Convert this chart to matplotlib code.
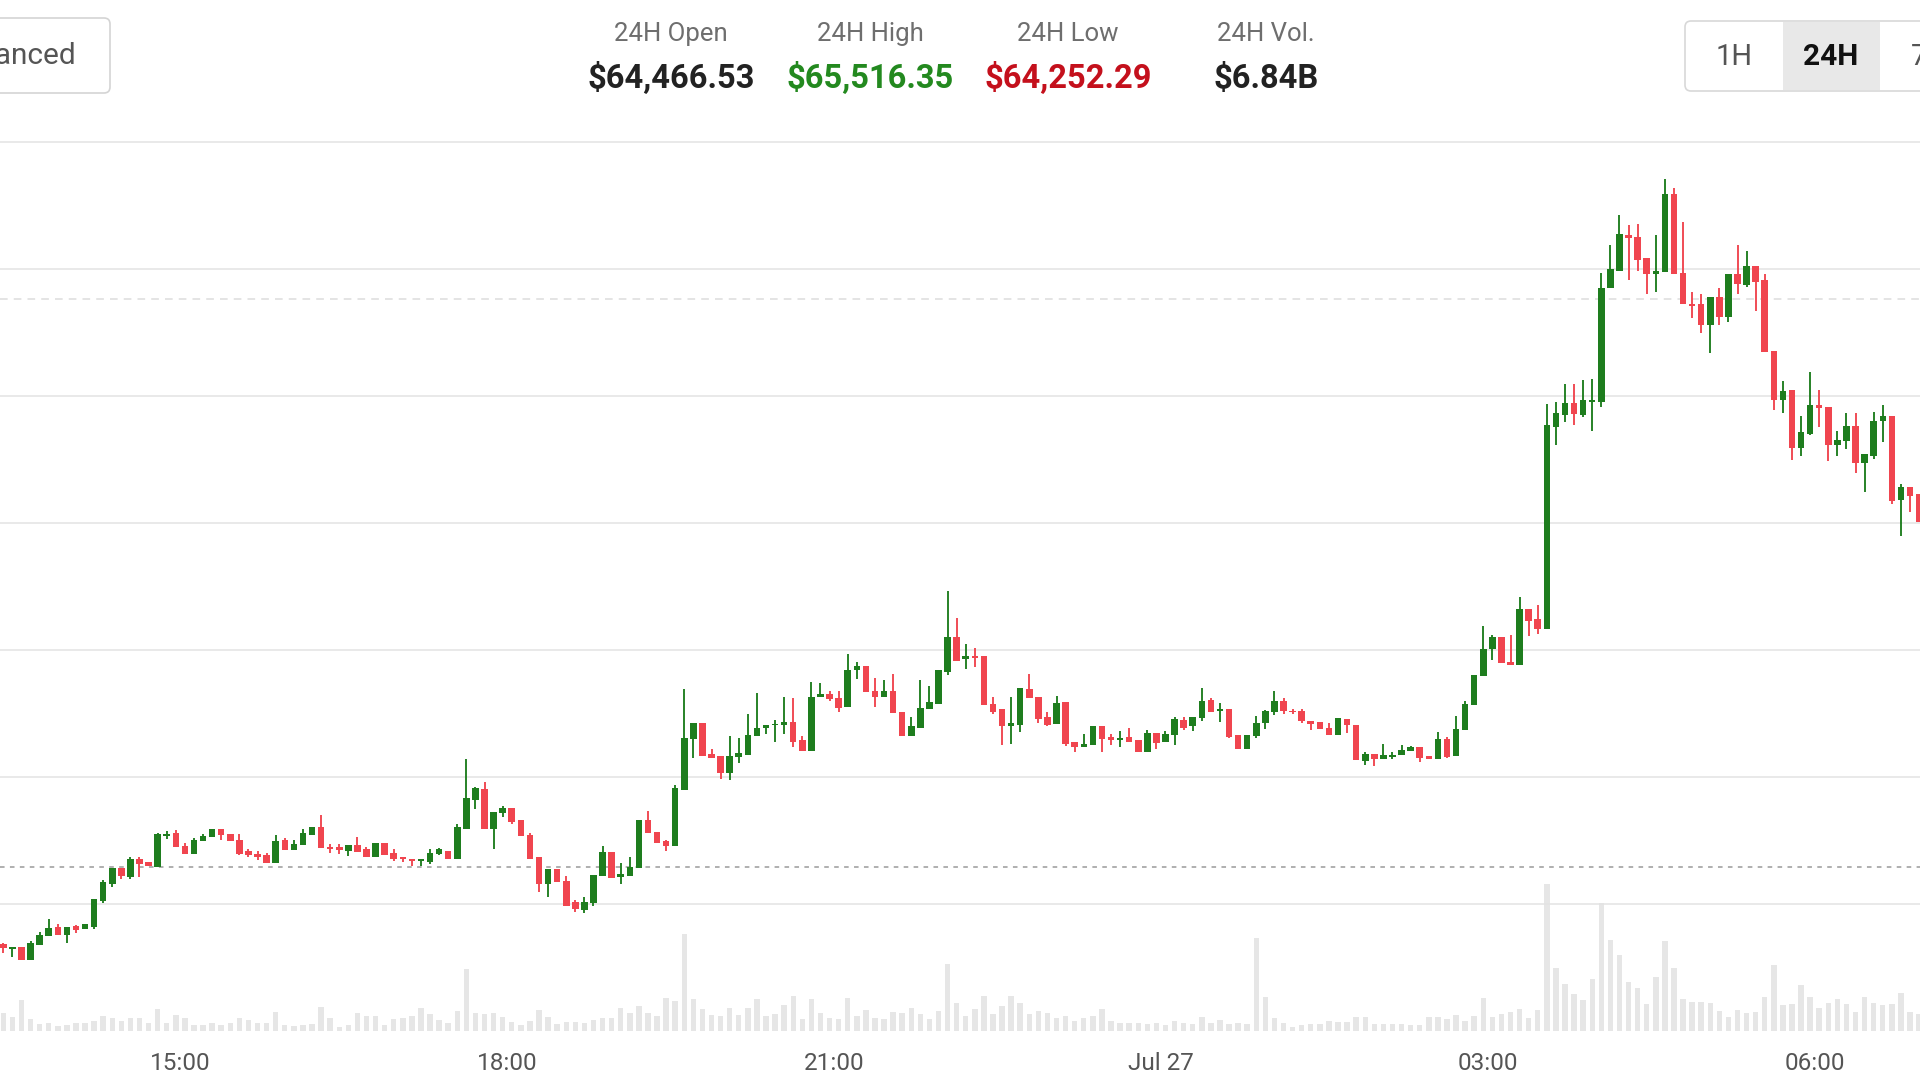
import numpy as np
import pandas as pd
import matplotlib
matplotlib.use("Agg")
import matplotlib.pyplot as plt
import matplotlib.dates as mdates
from matplotlib.patches import FancyBboxPatch, Rectangle

plt.rcParams['font.family'] = ['Roboto', 'DejaVu Sans']

# 5-minute candles, first one opens 13:20
start = "2024-07-26 13:20"

opens = [64338, 64330, 64333, 64313, 64336, 64350, 64365, 64352, 64366, 64361,
         64365, 64405, 64432, 64457, 64443, 64471, 64466, 64459, 64508, 64513,
         64492, 64479, 64499, 64506, 64519, 64510, 64502, 64484, 64480, 64477,
         64465, 64501, 64485, 64493, 64509, 64522, 64491, 64491, 64484, 64493,
         64487, 64474, 64496, 64481, 64475, 64472, 64468, 64467, 64480, 64484,
         64472, 64519, 64565, 64582, 64518, 64543, 64551, 64533, 64509, 64475,
         64432, 64456, 64437, 64403, 64391, 64402, 64444, 64482, 64443, 64445,
         64457, 64532, 64514, 64499, 64492, 64580, 64660, 64686, 64637, 64633,
         64606, 64632, 64635, 64665, 64677, 64682, 64682, 64687, 64658, 64642,
         64726, 64731, 64724, 64710, 64768, 64775, 64736, 64726, 64735, 64703,
         64665, 64678, 64707, 64715, 64766, 64821, 64786, 64791, 64790, 64715,
         64707, 64681, 64682, 64739, 64727, 64695, 64684, 64718, 64656, 64648,
         64651, 64680, 64664, 64659, 64664, 64658, 64639, 64670, 64655, 64666,
         64690, 64680, 64694, 64721, 64704, 64707, 64667, 64645, 64665, 64685,
         64702, 64720, 64705, 64704, 64689, 64687, 64678, 64667, 64692, 64682,
         64626, 64636, 64628, 64632, 64635, 64641, 64647, 64634, 64628, 64660,
         64634, 64674, 64713, 64759, 64801, 64821, 64782, 64777, 64864, 64849,
         64834, 65151, 65170, 65189, 65170, 65191, 65190, 65369, 65397, 65453,
         65450, 65417, 65391, 65395, 65518, 65394, 65345, 65344, 65312, 65356,
         65324, 65391, 65375, 65405, 65382, 65271, 65194, 65210, 65118, 65140,
         65185, 65183, 65123, 65129, 65153, 65094, 65106, 65160, 65168, 65036,
         65057, 65046]
highs = [64339, 64332, 64333, 64343, 64356, 64377, 64369, 64365, 64367, 64369,
         64408, 64439, 64458, 64457, 64474, 64475, 64466, 64513, 64516, 64517,
         64496, 64505, 64510, 64519, 64519, 64510, 64510, 64487, 64484, 64481,
         64509, 64504, 64501, 64518, 64522, 64540, 64495, 64495, 64493, 64506,
         64490, 64496, 64496, 64487, 64475, 64472, 64471, 64487, 64488, 64484,
         64527, 64628, 64585, 64592, 64546, 64554, 64551, 64533, 64513, 64475,
         64456, 64456, 64445, 64407, 64411, 64447, 64492, 64482, 64465, 64475,
         64532, 64547, 64514, 64502, 64588, 64739, 64686, 64686, 64644, 64633,
         64665, 64661, 64699, 64732, 64682, 64690, 64726, 64724, 64665, 64750,
         64748, 64736, 64736, 64794, 64782, 64775, 64756, 64753, 64763, 64703,
         64695, 64753, 64744, 64769, 64893, 64850, 64810, 64804, 64790, 64727,
         64707, 64727, 64741, 64762, 64727, 64703, 64728, 64718, 64656, 64668,
         64680, 64680, 64668, 64672, 64678, 64658, 64675, 64670, 64673, 64695,
         64695, 64695, 64741, 64724, 64717, 64707, 64667, 64667, 64697, 64706,
         64736, 64724, 64708, 64708, 64689, 64687, 64685, 64693, 64692, 64682,
         64640, 64636, 64653, 64639, 64651, 64649, 64647, 64634, 64671, 64664,
         64697, 64720, 64761, 64838, 64824, 64821, 64824, 64883, 64864, 64871,
         65188, 65191, 65219, 65219, 65225, 65227, 65393, 65437, 65485, 65469,
         65470, 65417, 65453, 65542, 65527, 65474, 65364, 65361, 65356, 65370,
         65391, 65438, 65428, 65405, 65392, 65271, 65224, 65210, 65168, 65238,
         65210, 65183, 65145, 65173, 65173, 65109, 65174, 65185, 65168, 65061,
         65057, 65046]
lows = [64324, 64317, 64313, 64313, 64336, 64350, 64352, 64339, 64355, 64361,
        64361, 64402, 64428, 64440, 64440, 64443, 64460, 64459, 64503, 64491,
        64479, 64479, 64499, 64506, 64502, 64500, 64477, 64475, 64470, 64465,
        64465, 64485, 64485, 64493, 64509, 64489, 64481, 64480, 64476, 64483,
        64475, 64474, 64478, 64469, 64467, 64460, 64460, 64464, 64478, 64471,
        64472, 64519, 64550, 64519, 64487, 64537, 64526, 64507, 64472, 64419,
        64411, 64435, 64397, 64388, 64387, 64398, 64444, 64441, 64432, 64445,
        64457, 64512, 64496, 64484, 64492, 64580, 64630, 64633, 64630, 64597,
        64596, 64623, 64635, 64665, 64668, 64656, 64668, 64648, 64642, 64642,
        64726, 64720, 64703, 64710, 64754, 64734, 64711, 64726, 64701, 64665,
        64665, 64678, 64707, 64715, 64761, 64783, 64771, 64774, 64713, 64699,
        64651, 64653, 64671, 64724, 64686, 64680, 64684, 64649, 64640, 64648,
        64651, 64640, 64651, 64648, 64656, 64639, 64639, 64644, 64655, 64650,
        64674, 64673, 64689, 64702, 64687, 64661, 64644, 64645, 64662, 64676,
        64698, 64699, 64699, 64685, 64674, 64676, 64667, 64667, 64669, 64627,
        64620, 64618, 64628, 64628, 64635, 64641, 64624, 64628, 64628, 64630,
        64634, 64674, 64713, 64759, 64785, 64780, 64777, 64777, 64822, 64826,
        64834, 65122, 65159, 65154, 65167, 65145, 65182, 65369, 65397, 65383,
        65397, 65361, 65363, 65395, 65392, 65344, 65323, 65299, 65267, 65312,
        65316, 65361, 65371, 65333, 65269, 65178, 65173, 65099, 65106, 65138,
        65151, 65098, 65106, 65117, 65079, 65048, 65100, 65128, 65030, 64979,
        65018, 65001]
closes = [64332, 64332, 64313, 64339, 64352, 64363, 64352, 64365, 64360, 64369,
          64408, 64435, 64458, 64444, 64471, 64464, 64460, 64511, 64510, 64491,
          64479, 64502, 64508, 64519, 64509, 64500, 64480, 64478, 64475, 64465,
          64500, 64485, 64495, 64512, 64522, 64489, 64487, 64486, 64493, 64483,
          64475, 64496, 64478, 64472, 64471, 64469, 64471, 64481, 64487, 64471,
          64521, 64568, 64583, 64519, 64546, 64552, 64530, 64507, 64472, 64432,
          64456, 64435, 64397, 64393, 64404, 64447, 64482, 64441, 64448, 64459,
          64532, 64512, 64496, 64492, 64583, 64662, 64686, 64633, 64630, 64606,
          64633, 64638, 64666, 64677, 64682, 64684, 64687, 64656, 64642, 64727,
          64731, 64723, 64709, 64769, 64775, 64734, 64726, 64735, 64701, 64665,
          64681, 64709, 64718, 64769, 64821, 64783, 64791, 64788, 64713, 64703,
          64680, 64686, 64741, 64724, 64691, 64682, 64717, 64652, 64647, 64653,
          64680, 64660, 64659, 64661, 64656, 64639, 64670, 64654, 64668, 64691,
          64678, 64695, 64720, 64702, 64707, 64664, 64645, 64667, 64686, 64704,
          64720, 64704, 64702, 64689, 64684, 64676, 64667, 64693, 64683, 64627,
          64636, 64628, 64635, 64635, 64643, 64647, 64631, 64628, 64660, 64632,
          64676, 64716, 64761, 64802, 64821, 64780, 64777, 64864, 64846, 64834,
          65154, 65173, 65189, 65171, 65193, 65194, 65370, 65400, 65454, 65448,
          65414, 65391, 65396, 65518, 65392, 65344, 65342, 65312, 65356, 65324,
          65391, 65376, 65405, 65379, 65269, 65194, 65208, 65118, 65143, 65185,
          65181, 65122, 65130, 65152, 65094, 65109, 65160, 65168, 65035, 65057,
          65043, 65001]
volumes = [53, 43, 93, 35, 20, 23, 15, 18, 23, 23, 31, 45, 38, 31, 38, 38, 23, 65,
           23, 48, 38, 18, 18, 25, 18, 23, 40, 33, 25, 23, 58, 18, 15, 18, 21, 73,
           38, 13, 18, 53, 45, 45, 18, 35, 38, 45, 68, 51, 33, 23, 61, 185, 53, 51,
           53, 43, 28, 18, 30, 63, 43, 20, 28, 28, 23, 33, 38, 38, 68, 53, 75, 55,
           45, 100, 90, 290, 95, 65, 47, 45, 70, 47, 70, 97, 45, 50, 77, 105, 35,
           95, 55, 40, 37, 100, 45, 63, 40, 35, 57, 53, 70, 50, 35, 60, 202, 85, 45,
           65, 105, 50, 75, 105, 85, 50, 60, 55, 40, 45, 30, 40, 45, 65, 30, 25, 23,
           25, 20, 23, 17, 30, 23, 20, 43, 23, 33, 20, 25, 20, 280, 103, 40,
           25, 13, 18, 21, 21, 29, 27, 27, 41, 41, 21, 21, 21, 21, 19, 19, 41, 41,
           37, 48, 31, 45, 98, 41, 51, 58, 66, 40, 63, 441, 188, 141, 111, 93, 156,
           383, 273, 228, 148, 128, 81, 163, 270, 188, 96, 88, 88, 83, 60, 41, 63,
           53, 57, 103, 198, 77, 80, 138, 103, 68, 85, 95, 80, 58, 103, 83, 78, 81,
           113, 56, 50]

tick_times = ["2024-07-26 15:00", "2024-07-26 18:00", "2024-07-26 21:00",
              "2024-07-27 00:00", "2024-07-27 03:00", "2024-07-27 06:00"]
tick_labels = ["15:00", "18:00", "21:00", "Jul 27", "03:00", "06:00"]
grid_prices = [64400, 64600, 64800, 65000, 65200, 65400, 65600]

open_line = 64459      # dashed line as it sits in the chart
ref_price = 65352

stat_labels = ["24H Open", "24H High", "24H Low", "24H Vol."]
stat_values = ["$64,466.53", "$65,516.35", "$64,252.29", "$6.84B"]
stat_colors = ["#222222", "#23891f", "#c4101c", "#222222"]
ranges = ["1H", "24H", "7D"]

GREEN = "#1e7d1e"
RED = "#f0454f"

o = np.array(opens, float)
h = np.array(highs, float)
l = np.array(lows, float)
c = np.array(closes, float)
times = pd.date_range(start, periods=len(o), freq="5min") + pd.Timedelta(minutes=2.5)
x = mdates.date2num(times.to_pydatetime())
minute = 1.0 / 1440
colors = np.where(c >= o, GREEN, RED)

fig = plt.figure(figsize=(19.2, 10.8), dpi=100)
fig.patch.set_facecolor("white")
rect = [0, 1 - 1031 / 1080, 1, 890 / 1080]

ax_vol = fig.add_axes(rect)
ax = fig.add_axes(rect, sharex=ax_vol)
ax.set_zorder(ax_vol.get_zorder() + 1)
ax.patch.set_visible(False)

# volume
ax_vol.bar(x, volumes, width=3.0 * minute, color="#e6e6e6", linewidth=0)
ax_vol.set_ylim(0, 2670)
ax_vol.axis("off")

# candles
ax.vlines(x, l, h, colors=colors, linewidth=1.35, zorder=2)
body_lo = np.minimum(o, c)
body_h = np.maximum(np.abs(c - o), 2.4)
ax.bar(x, body_h, bottom=body_lo, width=3.6 * minute, color=colors, linewidth=0, zorder=3)

ax.axhline(open_line, color="#9a9a9a", linewidth=1.1, dashes=(3, 3.5), zorder=1)
ax.axhline(ref_price, color="#dcdcdc", linewidth=1.1, dashes=(5, 4), zorder=1)

ax.set_ylim(64200.8, 65601)
t0 = pd.Timestamp(start)
ax.set_xlim(mdates.date2num(t0 + pd.Timedelta(minutes=0.68)),
            mdates.date2num(t0 + pd.Timedelta(minutes=1058)))
ax.set_yticks(grid_prices)
ax.grid(axis="y", color="#e3e3e3", linewidth=1.1)
ax.set_axisbelow(True)
ax.set_xticks(mdates.date2num(pd.to_datetime(tick_times).to_pydatetime()))
ax.set_xticklabels(tick_labels)
ax.tick_params(axis="x", length=0, pad=15, labelsize=17.5, labelcolor="#555555")
ax.tick_params(axis="y", length=0, labelleft=False)
for s in ax.spines.values():
    s.set_visible(False)

# header drawn in pixel coordinates
hdr = fig.add_axes([0, 0, 1, 1])
hdr.set_xlim(0, 1920)
hdr.set_ylim(1080, 0)
hdr.axis("off")
hdr.patch.set_visible(False)

hdr.add_patch(FancyBboxPatch((-30, 18), 140, 75, boxstyle="round,pad=0,rounding_size=6",
                             fc="white", ec="#d4d4d4", lw=1.2))
hdr.text(76, 56, "Advanced", ha="right", va="center", fontsize=21.5, color="#555555")

stat_x = [671, 870, 1068, 1266]
for sx, lab, val, col in zip(stat_x, stat_labels, stat_values, stat_colors):
    hdr.text(sx, 34, lab, ha="center", va="center", fontsize=18.5, color="#6e6e6e")
    hdr.text(sx, 79, val, ha="center", va="center", fontsize=23.5, color=col,
             fontweight="bold")

hdr.add_patch(FancyBboxPatch((1685, 21), 300, 70, boxstyle="round,pad=0,rounding_size=6",
                             fc="white", ec="#d8d8d8", lw=1.2))
hdr.add_patch(Rectangle((1783, 22), 97, 68, fc="#e8e8e8", ec="none"))
hdr.text(1734, 57, ranges[0], ha="center", va="center", fontsize=21, color="#555555")
hdr.text(1831, 57, ranges[1], ha="center", va="center", fontsize=21.5, color="#111111",
         fontweight="bold")
hdr.text(1929, 57, ranges[2], ha="center", va="center", fontsize=21, color="#555555")

fig.savefig("out.png", dpi=100, facecolor="white")
